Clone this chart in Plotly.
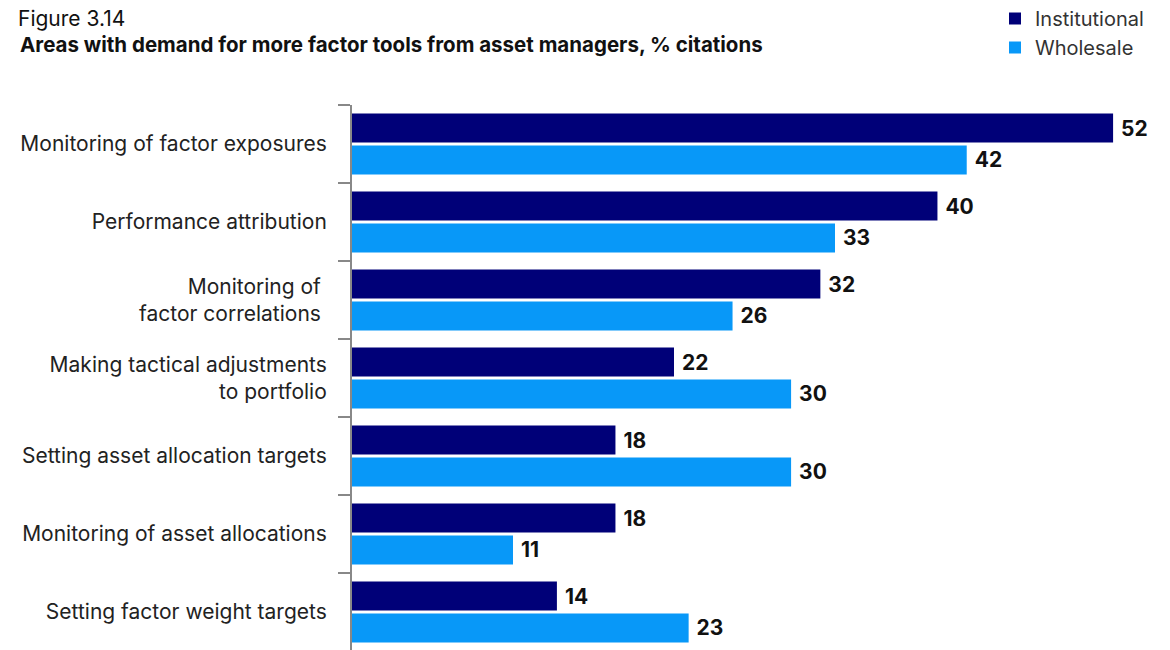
import plotly.graph_objects as go

categories = [
    "Monitoring of factor exposures",
    "Performance attribution",
    "Monitoring of\u00a0<br>factor correlations\u00a0",
    "Making tactical adjustments<br>to portfolio",
    "Setting asset allocation targets",
    "Monitoring of asset allocations",
    "Setting factor weight targets",
]
institutional = [52, 40, 32, 22, 18, 18, 14]
wholesale = [42, 33, 26, 30, 30, 11, 23]

NAVY = "#000078"
LIGHT = "#0898F8"
FONT = "Inter"

W, H = 1162, 643
L, R, T, B = 344, 13, 97, 0
PW, PH = W - L - R, H - T - B

fig = go.Figure()
for name, vals, col in [("Institutional", institutional, NAVY), ("Wholesale", wholesale, LIGHT)]:
    fig.add_trace(go.Bar(
        y=categories, x=vals, name=name, orientation="h",
        marker=dict(color=col, line=dict(width=0)),
        text=vals, texttemplate=" %{x}", textposition="outside",
        textfont=dict(family=FONT, size=21, color="#111111", weight="bold"),
        constraintext="none", cliponaxis=False,
    ))

fig.update_layout(
    width=W, height=H,
    margin=dict(l=L, r=R, t=T, b=B, autoexpand=False),
    paper_bgcolor="white", plot_bgcolor="white",
    barmode="group", bargap=0.18, bargroupgap=0.1,
    font=dict(family=FONT, size=21, color="#222222"),
    showlegend=True,
    legend=dict(
        xref="container", yref="paper", x=987 / W, y=(H + 9) / PH,
        xanchor="left", yanchor="top",
        font=dict(family=FONT, size=20, color="#333333"),
        tracegroupgap=0, bgcolor="rgba(0,0,0,0)",
    ),
    title=dict(
        text="Figure 3.14", xref="container", yref="container",
        x=10 / W, y=1.0, xanchor="left", yanchor="top", pad=dict(t=3),
        font=dict(family=FONT, size=21, color="#111111"),
    ),
    annotations=[dict(
        text="<b>Areas with demand for more factor tools from asset managers, % citations</b>",
        xref="paper", yref="paper", x=(10 - L) / PW, y=(H - 37) / PH,
        xanchor="left", yanchor="middle", showarrow=False,
        font=dict(family=FONT, size=20.5, color="#111111"),
    )],
    xaxis=dict(range=[0, 55], visible=False, fixedrange=True),
    yaxis=dict(
        autorange="reversed", type="category", automargin=False,
        showline=True, linecolor="#888888", linewidth=2,
        ticks="outside", tickson="boundaries", ticklen=12, tickwidth=2, tickcolor="#888888",
        ticklabelstandoff=19, showgrid=False,
        tickfont=dict(family=FONT, size=21, color="#222222"),
    ),
)

fig.write_html("out.html")
